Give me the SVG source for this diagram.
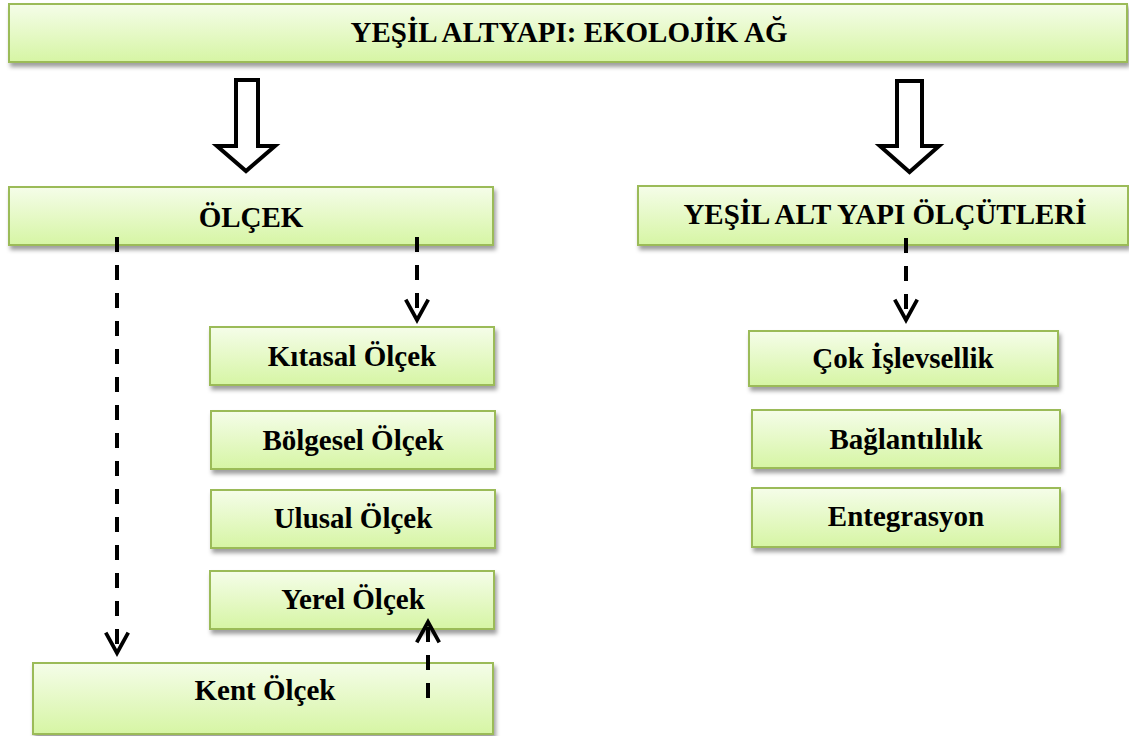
<svg xmlns="http://www.w3.org/2000/svg" width="1129" height="736" viewBox="0 0 1129 736">
  <defs>
    <linearGradient id="gFill" x1="0" y1="0" x2="0" y2="1">
      <stop offset="0" stop-color="#f5fde9"/>
      <stop offset="1" stop-color="#d6f5a4"/>
    </linearGradient>
    <filter id="shadow" x="-5%" y="-20%" width="110%" height="150%">
      <feDropShadow dx="2" dy="4" stdDeviation="2.2" flood-color="#000" flood-opacity="0.38"/>
    </filter>
    <marker id="vhead" markerUnits="userSpaceOnUse" markerWidth="30" markerHeight="30" viewBox="-24 -14 28 28" refX="0" refY="0" orient="auto">
      <path d="M-19,-10.5 L0,0 L-19,10.5" fill="none" stroke="#000" stroke-width="3.5" stroke-linejoin="miter"/>
    </marker>
    <style>
      .box { fill: url(#gFill); stroke: #9bbb59; stroke-width: 2; filter: url(#shadow); }
      .lbl { font-family: "Liberation Serif", "Times New Roman", serif; font-weight: bold; font-size: 29px; fill: #000; text-anchor: middle; }
      .dash { fill: none; stroke: #000; stroke-width: 4; stroke-dasharray: 15 13; marker-end: url(#vhead); }
      .block { fill: #fff; stroke: #000; stroke-width: 4; stroke-linejoin: miter; }
    </style>
  </defs>

  <g id="title">
    <rect class="box" x="9" y="4" width="1118" height="58"/>
    <text class="lbl" x="569" y="42">YEŞİL ALTYAPI: EKOLOJİK AĞ</text>
  </g>

  <g id="olcek">
    <rect class="box" x="9" y="187" width="484" height="58"/>
    <text class="lbl" x="251" y="227">ÖLÇEK</text>
  </g>

  <g id="olcutler">
    <rect class="box" x="638" y="186" width="490" height="59"/>
    <text class="lbl" x="885" y="224">YEŞİL ALT YAPI ÖLÇÜTLERİ</text>
  </g>

  <g id="kitasal">
    <rect class="box" x="210" y="327" width="284" height="58"/>
    <text class="lbl" x="352" y="366">Kıtasal Ölçek</text>
  </g>

  <g id="bolgesel">
    <rect class="box" x="211" y="411" width="284" height="58"/>
    <text class="lbl" x="353" y="450">Bölgesel Ölçek</text>
  </g>

  <g id="ulusal">
    <rect class="box" x="211" y="490" width="284" height="58"/>
    <text class="lbl" x="353" y="528">Ulusal Ölçek</text>
  </g>

  <g id="yerel">
    <rect class="box" x="210" y="571" width="284" height="58"/>
    <text class="lbl" x="353" y="609">Yerel Ölçek</text>
  </g>

  <g id="kent">
    <rect class="box" x="33" y="663" width="460" height="71"/>
    <text class="lbl" x="265" y="700">Kent Ölçek</text>
  </g>

  <g id="cok">
    <rect class="box" x="749" y="331" width="309" height="55"/>
    <text class="lbl" x="903" y="368">Çok İşlevsellik</text>
  </g>

  <g id="baglantililik">
    <rect class="box" x="752" y="410" width="308" height="58"/>
    <text class="lbl" x="906" y="449">Bağlantılılık</text>
  </g>

  <g id="entegrasyon">
    <rect class="box" x="752" y="488" width="308" height="59"/>
    <text class="lbl" x="906" y="526">Entegrasyon</text>
  </g>

  <g id="connectors">
    <polygon class="block" points="236,80 258,80 258,146 275,146 246,171 217,146 236,146"/>
    <polygon class="block" points="897,81 922,81 922,146 939,146 909.5,172 880,146 897,146"/>
    <path class="dash" d="M117,237 L117,653"/>
    <path class="dash" d="M417,237 L417,320"/>
    <path class="dash" d="M906,238 L906,320"/>
    <path class="dash" d="M428,698 L428,622"/>
  </g>
</svg>
